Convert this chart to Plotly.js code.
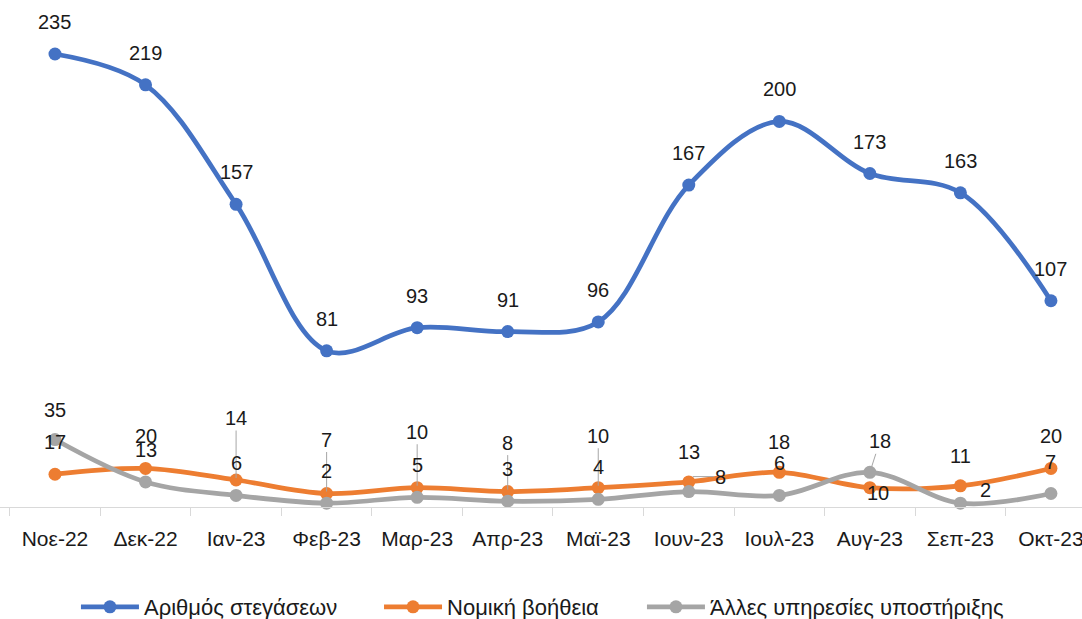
<!DOCTYPE html>
<html>
<head>
<meta charset="utf-8">
<script src="https://cdn.plot.ly/plotly-3.0.1.min.js"></script>
<style>
  html, body { margin: 0; padding: 0; background: #ffffff; }
  #chart { width: 1082px; height: 619px; }
</style>
</head>
<body>
<div id="chart"></div>
<script>
// ---- Data ----
const months = ["Νοε-22", "Δεκ-22", "Ιαν-23", "Φεβ-23", "Μαρ-23", "Απρ-23", "Μαϊ-23", "Ιουν-23", "Ιουλ-23", "Αυγ-23", "Σεπ-23", "Οκτ-23"];
const housing = [235, 219, 157, 81, 93, 91, 96, 167, 200, 173, 163, 107];
const legalAid = [17, 20, 14, 7, 10, 8, 10, 13, 18, 10, 11, 20];
const otherServices = [35, 13, 6, 2, 5, 3, 4, 8, 6, 18, 2, 7];
const seriesNames = ["Αριθμός στεγάσεων", "Νομική βοήθεια", "Άλλες υπηρεσίες υποστήριξης"];
const colors = ["#4472C4", "#ED7D31", "#A5A5A5"];

// ---- Label placement (pixel offsets, not data) ----
const defaultLift = 32;
const labelTweaks = [
  {},
  { 2: { ay: -62 }, 3: { ay: -54 }, 4: { ay: -56 }, 5: { ay: -49 }, 6: { ay: -52 },
    7: { dy: 30 }, 8: { dy: 30 }, 9: { dx: 8, dy: -5 }, 10: { dy: 30 } },
  { 0: { dy: 30 }, 7: { ax: 30, ay: 0, dx: 2, dy: 15 }, 9: { ax: 10, ay: -31 }, 10: { dx: 25, dy: 13 } }
];
// legend blocks: left edge of each entry (paper fraction)
const legendX = [0.0702, 0.3503, 0.5933];
const legendIds = ["legend", "legend2", "legend3"];

const FONT = "'Liberation Sans', Arial, sans-serif";
const allSeries = [housing, legalAid, otherServices];

const traces = allSeries.map((vals, s) => ({
  type: "scatter",
  mode: "lines+markers",
  name: seriesNames[s],
  legend: legendIds[s],
  x: months,
  y: vals,
  line: { color: colors[s], width: 4.75, shape: "spline", smoothing: 1 },
  marker: { color: colors[s], size: 13 },
  cliponaxis: false,
  hoverinfo: "x+y"
}));

const annotations = [];
allSeries.forEach((vals, s) => {
  vals.forEach((v, i) => {
    const t = labelTweaks[s][i] || {};
    const a = {
      x: months[i], y: v, xref: "x", yref: "y",
      text: String(v),
      font: { family: FONT, size: 20, color: "#1a1a1a" }
    };
    if (t.ay !== undefined) {
      a.showarrow = true;
      a.arrowhead = 0;
      a.arrowwidth = 1;
      a.arrowcolor = "#a6a6a6";
      a.ax = t.ax || 0;
      a.ay = t.ay;
      a.standoff = 2;
      a.xshift = t.dx || 0;
      a.yshift = t.dy || 0;
    } else {
      a.showarrow = false;
      a.xshift = t.dx || 0;
      a.yshift = t.dy !== undefined ? t.dy : defaultLift;
    }
    annotations.push(a);
  });
});

const legendBase = {
  orientation: "h",
  xref: "paper", yref: "container",
  xanchor: "left",
  y: 0.0194, yanchor: "middle",
  font: { family: FONT, size: 22, color: "#1a1a1a" },
  itemwidth: 58,
  bgcolor: "rgba(0,0,0,0)",
  borderwidth: 0
};

const layout = {
  width: 1082,
  height: 619,
  margin: { l: 0, r: 0, t: 0, b: 112, pad: 0, autoexpand: false },
  paper_bgcolor: "#ffffff",
  plot_bgcolor: "#ffffff",
  font: { family: FONT, size: 20, color: "#1a1a1a" },
  showlegend: true,
  legend: Object.assign({}, legendBase, { x: legendX[0] }),
  legend2: Object.assign({}, legendBase, { x: legendX[1] }),
  legend3: Object.assign({}, legendBase, { x: legendX[2] }),
  xaxis: {
    type: "category",
    range: [-0.6074, 11.343],
    showgrid: false,
    zeroline: false,
    showline: true,
    linecolor: "#d9d9d9",
    linewidth: 1,
    ticks: "outside",
    tickson: "boundaries",
    ticklen: 8,
    tickcolor: "#d9d9d9",
    ticklabelstandoff: 13,
    tickfont: { family: FONT, size: 21, color: "#1a1a1a" },
    automargin: false,
    fixedrange: true
  },
  yaxis: {
    range: [0, 263],
    visible: false,
    showgrid: false,
    zeroline: false,
    automargin: false,
    fixedrange: true
  },
  annotations: annotations
};

Plotly.newPlot("chart", traces, layout, { displayModeBar: false, staticPlot: true });
</script>
</body>
</html>
